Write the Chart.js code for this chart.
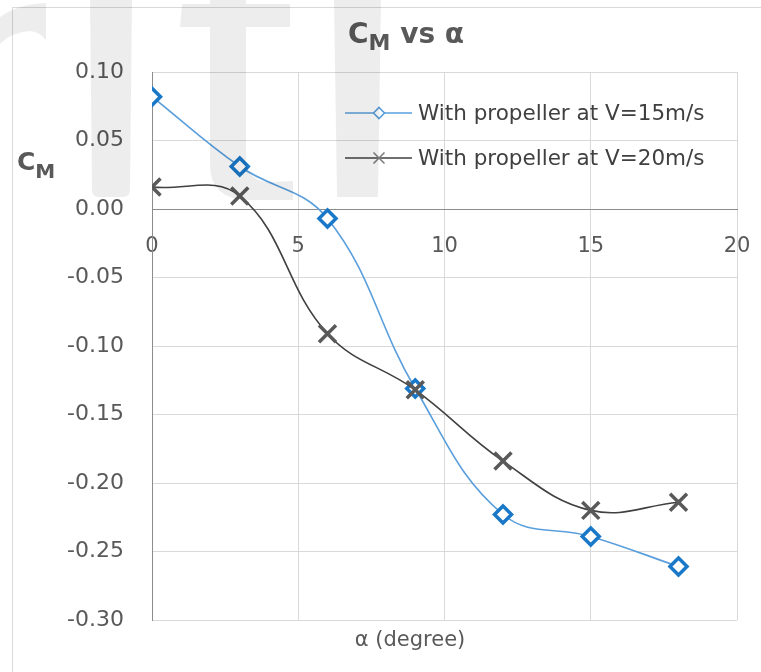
<!DOCTYPE html>
<html>
<head>
<meta charset="utf-8">
<script src="https://cdn.jsdelivr.net/npm/chart.js@4.4.1/dist/chart.umd.min.js"></script>
<style>
  html, body { margin: 0; padding: 0; background: #ffffff; }
  #wrap { width: 761px; height: 672px; }
</style>
</head>
<body>
<div id="wrap"><canvas id="chart" width="761" height="672"></canvas></div>
<script>
// Angle of attack (degrees)
const alphaDeg = [0, 3, 6, 9, 12, 15, 18];
// Pitching-moment coefficient, propeller on at 15 m/s
const cmV15 = [0.082, 0.031, -0.007, -0.131, -0.223, -0.239, -0.261];
// Pitching-moment coefficient, propeller on at 20 m/s
const cmV20 = [0.016, 0.0095, -0.091, -0.132, -0.184, -0.220, -0.214];
const seriesNames = ['With propeller at V=15m/s', 'With propeller at V=20m/s'];
const xTickValues = [0, 5, 10, 15, 20];
const yTickValues = [0.10, 0.05, 0.00, -0.05, -0.10, -0.15, -0.20, -0.25, -0.30];

const FONT = '"DejaVu Sans", "Liberation Sans", sans-serif';
const TEXT_GREY = '#595959';
const GRID = '#d9d9d9';
const AXIS = '#8c8c8c';
const BLUE_LINE = '#5a9fdc';
const BLUE_MARK = '#1a78c8';
const DARK_LINE = '#404040';
const DARK_MARK = '#595959';

// draws a main string with a subscript, followed by optional trailing text
function drawSubText(ctx, x, y, size, subSize, subDrop, main, sub, tail, align) {
  ctx.save();
  ctx.textBaseline = 'alphabetic';
  ctx.textAlign = 'left';
  const fMain = 'bold ' + size + 'px ' + FONT;
  const fSub = 'bold ' + subSize + 'px ' + FONT;
  ctx.font = fMain; const w1 = ctx.measureText(main).width;
  ctx.font = fSub;  const w2 = ctx.measureText(sub).width;
  ctx.font = fMain; const w3 = tail ? ctx.measureText(tail).width : 0;
  let x0 = x;
  if (align === 'center') x0 = x - (w1 + w2 + w3) / 2;
  ctx.fillStyle = TEXT_GREY;
  ctx.font = fMain; ctx.fillText(main, x0, y);
  ctx.font = fSub;  ctx.fillText(sub, x0 + w1, y + subDrop);
  if (tail) { ctx.font = fMain; ctx.fillText(tail, x0 + w1 + w2, y); }
  ctx.restore();
}

const decorations = {
  id: 'decorations',
  beforeDraw(chart) {
    const ctx = chart.ctx;
    ctx.save();
    ctx.fillStyle = '#ffffff';
    ctx.fillRect(0, 0, chart.width, chart.height);
    // outer chart frame
    ctx.strokeStyle = GRID;
    ctx.lineWidth = 1;
    ctx.beginPath();
    ctx.moveTo(12.5, chart.height);
    ctx.lineTo(12.5, 7.5);
    ctx.lineTo(chart.width, 7.5);
    ctx.stroke();
    ctx.restore();
  },
  afterDraw(chart) {
    const ctx = chart.ctx;

    // chart title
    drawSubText(ctx, 406, 43, 28, 22, 7, 'C', 'M', ' vs α', 'center');
    // vertical axis title
    drawSubText(ctx, 17, 170, 25, 20, 8, 'C', 'M', '', 'left');
    // horizontal axis title
    ctx.save();
    ctx.fillStyle = TEXT_GREY;
    ctx.font = '21px ' + FONT;
    ctx.textAlign = 'center';
    ctx.textBaseline = 'middle';
    ctx.fillText('α (degree)', 410, 641);
    ctx.restore();

    // legend inside the plot area
    const rows = [113, 158];
    chart.data.datasets.forEach((ds, i) => {
      const y = rows[i];
      const mx = 379, r = 5.5;
      ctx.save();
      ctx.strokeStyle = ds.borderColor;
      ctx.lineWidth = 1.6;
      ctx.beginPath();
      ctx.moveTo(345, y); ctx.lineTo(412, y);
      ctx.stroke();
      ctx.fillStyle = '#ffffff';
      ctx.beginPath();
      if (ds.pointStyle === 'rectRot') {
        ctx.moveTo(mx - r, y); ctx.lineTo(mx, y - r);
        ctx.lineTo(mx + r, y); ctx.lineTo(mx, y + r); ctx.closePath();
        ctx.fill(); ctx.stroke();
      } else {
        ctx.strokeStyle = '#7f7f7f';
        ctx.moveTo(mx - r, y - r); ctx.lineTo(mx + r, y + r);
        ctx.moveTo(mx + r, y - r); ctx.lineTo(mx - r, y + r);
        ctx.stroke();
      }
      ctx.fillStyle = '#404040';
      ctx.font = '21.5px ' + FONT;
      ctx.textAlign = 'left';
      ctx.textBaseline = 'middle';
      ctx.fillText(ds.label, 418, y + 1);
      ctx.restore();
    });

    // faint lettering laid over the top-left corner
    ctx.save();
    ctx.fillStyle = 'rgba(0,0,0,0.07)';
    // curved stroke at the far left
    ctx.beginPath();
    ctx.moveTo(0, 17);
    ctx.quadraticCurveTo(18, 4, 46, 3);
    ctx.lineTo(46, 40);
    ctx.quadraticCurveTo(40, 32, 30, 31);
    ctx.quadraticCurveTo(12, 32, 0, 44);
    ctx.closePath();
    ctx.fill();
    // first upright
    ctx.beginPath();
    ctx.moveTo(90, 0); ctx.lineTo(132, 0);
    ctx.lineTo(130, 190);
    ctx.quadraticCurveTo(130, 197, 123, 197);
    ctx.lineTo(99, 197);
    ctx.quadraticCurveTo(92, 197, 92, 190);
    ctx.closePath();
    ctx.fill();
    // letter with crossbar and hooked foot
    ctx.beginPath();
    ctx.moveTo(182, 4); ctx.lineTo(210, 4); ctx.lineTo(210, 0);
    ctx.lineTo(246, 0); ctx.lineTo(246, 4); ctx.lineTo(290, 4);
    ctx.lineTo(290, 27); ctx.lineTo(246, 27);
    ctx.lineTo(246, 160);
    ctx.quadraticCurveTo(248, 182, 270, 182);
    ctx.lineTo(293, 181);
    ctx.lineTo(293, 200);
    ctx.lineTo(250, 200);
    ctx.quadraticCurveTo(210, 200, 210, 165);
    ctx.lineTo(210, 27); ctx.lineTo(180, 27);
    ctx.closePath();
    ctx.fill();
    // second upright
    ctx.beginPath();
    ctx.moveTo(334, 0); ctx.lineTo(381, 0);
    ctx.lineTo(378, 197); ctx.lineTo(337, 197);
    ctx.closePath();
    ctx.fill();
    ctx.restore();
  }
};

const chart = new Chart(document.getElementById('chart'), {
  type: 'line',
  data: {
    datasets: [
      {
        label: seriesNames[0],
        data: alphaDeg.map((a, i) => ({ x: a, y: cmV15[i] })),
        borderColor: BLUE_LINE,
        borderWidth: 1.6,
        tension: 0.4,
        fill: false,
        pointStyle: 'rectRot',
        pointRadius: 8.5,
        pointBorderWidth: 3.5,
        pointBorderColor: BLUE_MARK,
        pointBackgroundColor: '#ffffff',
        order: 1
      },
      {
        label: seriesNames[1],
        data: alphaDeg.map((a, i) => ({ x: a, y: cmV20[i] })),
        borderColor: DARK_LINE,
        borderWidth: 1.6,
        tension: 0.4,
        fill: false,
        pointStyle: 'crossRot',
        pointRadius: 12,
        pointBorderWidth: 3.5,
        pointBorderColor: DARK_MARK,
        pointBackgroundColor: DARK_MARK,
        order: 0
      }
    ]
  },
  options: {
    responsive: false,
    animation: false,
    devicePixelRatio: 1,
    layout: { padding: { left: 0, top: 72, right: 24, bottom: 52 } },
    plugins: { legend: { display: false }, title: { display: false }, tooltip: { enabled: false } },
    scales: {
      x: {
        type: 'linear',
        position: { y: 0 },
        min: 0, max: 20,
        afterBuildTicks: s => { s.ticks = xTickValues.map(v => ({ value: v })); },
        afterFit: s => { s.paddingLeft = 0; s.paddingRight = 0; },
        ticks: { color: TEXT_GREY, font: { family: FONT, size: 21 }, padding: 25, maxRotation: 0 },
        grid: { color: c => (c.tick && c.tick.value === 0 ? AXIS : GRID), lineWidth: 1, drawTicks: false },
        border: { color: AXIS, width: 1 }
      },
      y: {
        type: 'linear',
        min: -0.30, max: 0.10,
        afterBuildTicks: s => { s.ticks = yTickValues.map(v => ({ value: v })); },
        afterFit: s => { s.width = 152; },
        ticks: { color: TEXT_GREY, font: { family: FONT, size: 22 }, padding: 28,
                 callback: v => Number(v).toFixed(2) },
        grid: { color: c => (c.tick && c.tick.value === 0 ? AXIS : GRID), lineWidth: 1, drawTicks: false },
        border: { color: AXIS, width: 1 }
      }
    }
  },
  plugins: [decorations]
});
</script>
</body>
</html>
